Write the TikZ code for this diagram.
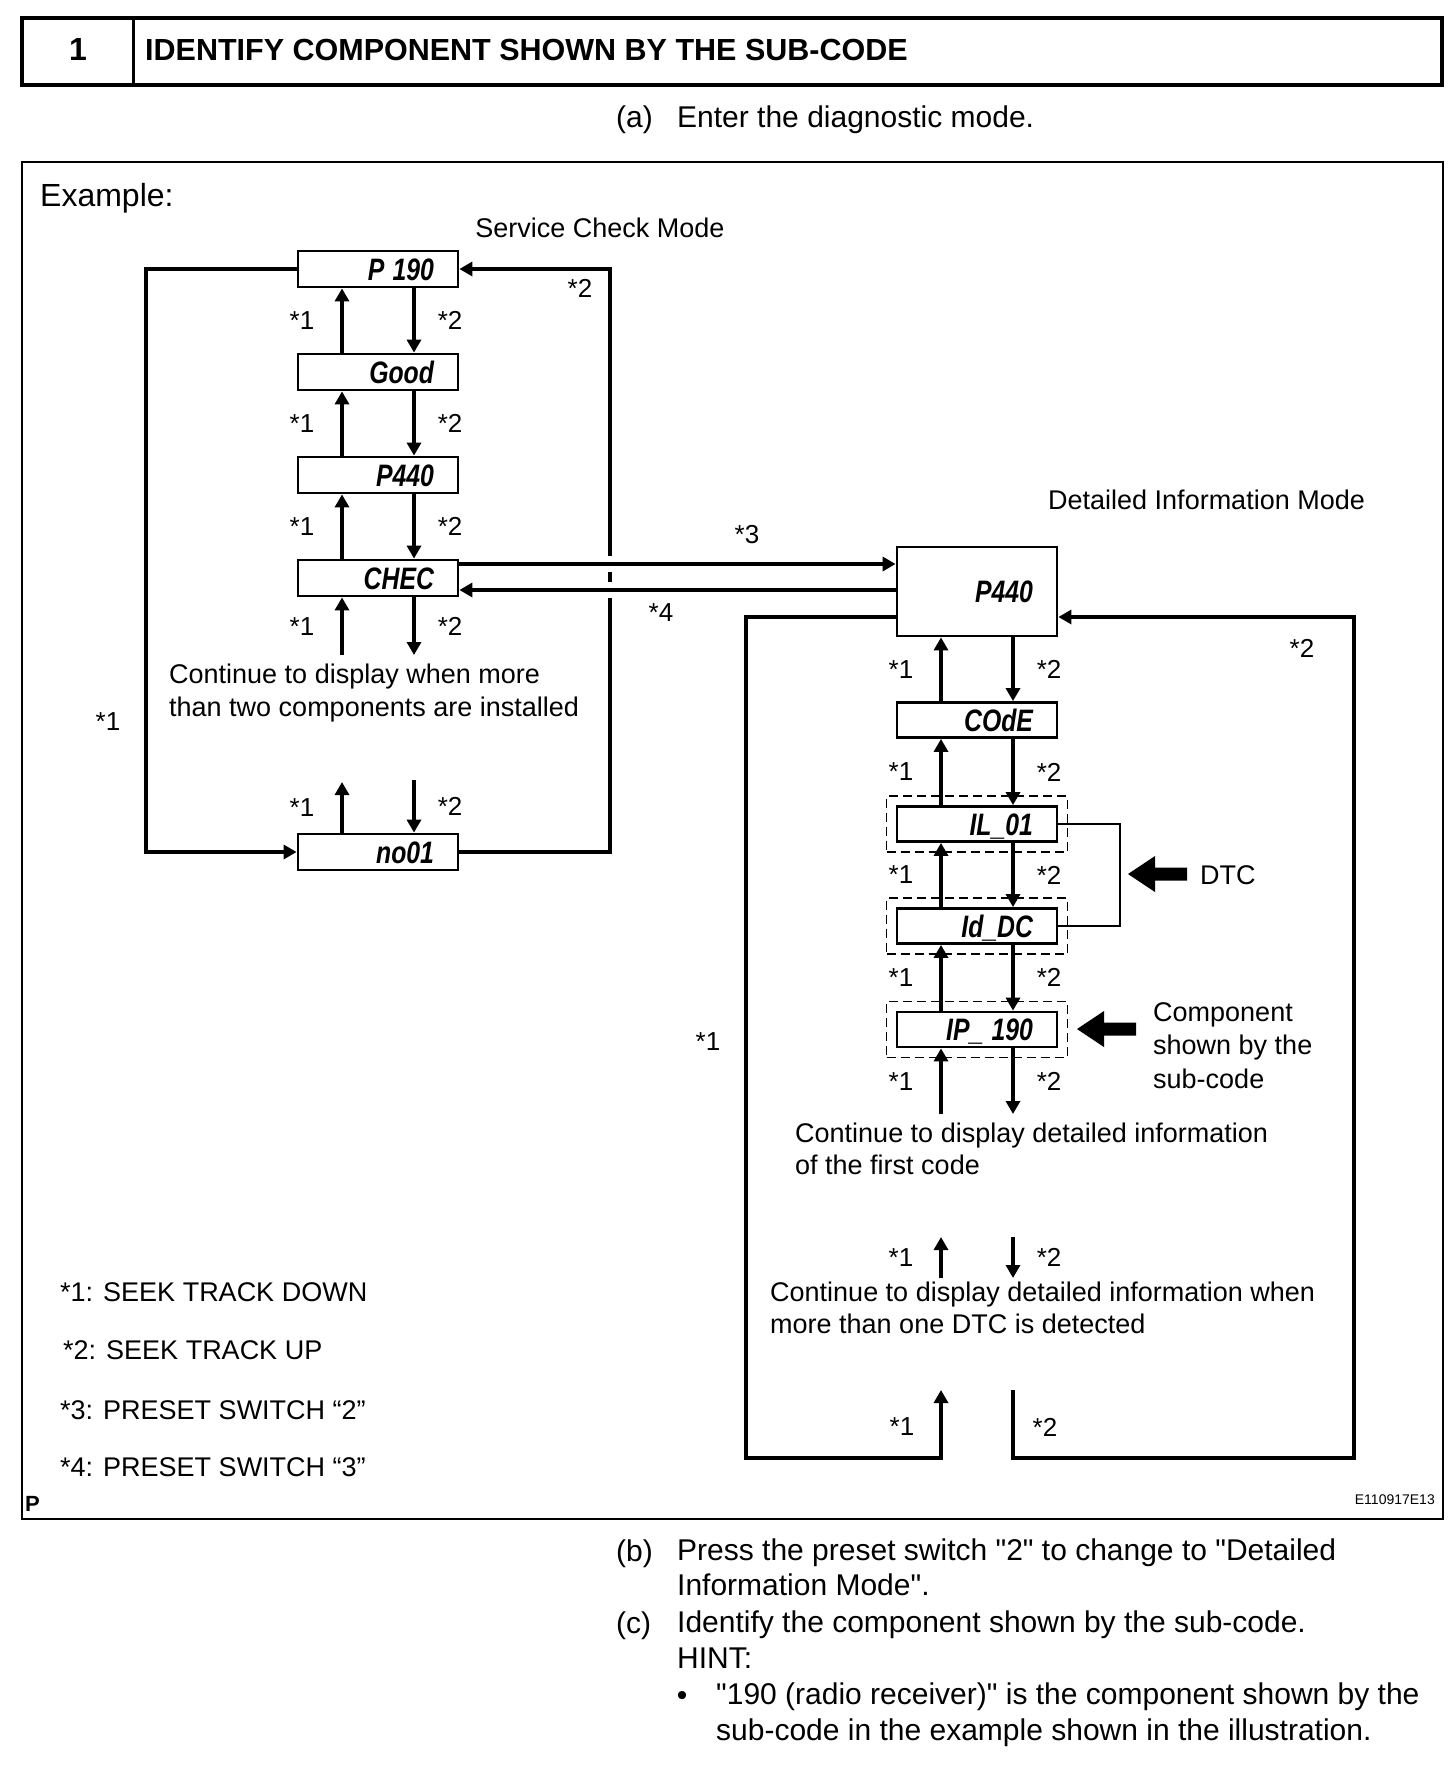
\documentclass[tikz,border=0pt]{standalone}
\usepackage{fontspec}
\newfontfamily\plainsans{Liberation Sans}
\usetikzlibrary{arrows.meta,fit}
\newcommand\lcdtxt[1]{\scalebox{0.8}[1]{#1}}
\tikzset{
  lcd/.style     = {draw, line width=2.8pt, minimum height=35pt, inner xsep=24pt,
                    inner ysep=0pt, text width=112pt, align=right,
                    text height=22pt, text depth=0pt,
                    font=\bfseries\itshape\fontsize{31}{31}\selectfont},
  endtip/.style  = {-{Triangle[width=14pt,length=13pt]}},
  arr/.style     = {line width=3.5pt, endtip},
  ring/.style    = {line width=4pt},
  lbl/.style     = {font=\fontsize{26}{26}\selectfont, inner sep=0pt},
  txt/.style     = {font=\fontsize{27}{33}\selectfont, inner sep=0pt, align=left},
  body/.style    = {font=\fontsize{30}{35}\selectfont, inner sep=0pt, align=left},
  dashbox/.style = {draw, line width=1.5pt, dash pattern=on 9pt off 5pt, inner sep=9pt},
  pics/fat/.style = {code={
    \fill (0,0) -- (27,18) -- (27,6.5) -- (59,6.5) -- (59,-6.5) -- (27,-6.5) -- (27,-18) -- cycle;}}
}
% *1 up / *2 down between two stacked displays
\newcommand\seekpair[2]{%
  \draw[arr] ([xshift=-36pt]#2.north) -- node[lbl,left=26pt] (#1-sd) {*1} ([xshift=-36pt]#1.south);
  \draw[arr] ([xshift=36pt]#1.south) -- node[lbl,right=22pt] (#1-su) {*2} ([xshift=36pt]#2.north);
}

\begin{document}
\plainsans
\begin{tikzpicture}[x=1pt,y=-1pt]
\useasboundingbox (0,0) rectangle (1456,1788);
\fill[white] (0,0) rectangle (1456,1788);

% header
\draw[line width=4pt] (22,18) rectangle (1442,85);
\draw[line width=3pt] (133,18) -- (133,85);
\node[font=\bfseries\fontsize{32}{32}\selectfont, anchor=base, inner sep=0pt] (num) at (78,60) {1};
\node[font=\bfseries\fontsize{30.5}{30.5}\selectfont, anchor=base west, inner sep=0pt] (title) at (145,60)
  {IDENTIFY COMPONENT SHOWN BY THE SUB-CODE};
\node[body, anchor=base west] (stepa) at (616,127) {(a)};
\node[body, anchor=base west] (enter) at (677,127) {Enter the diagnostic mode.};

% frame
\draw[line width=2.5pt] (22,162) rectangle (1443,1519);
\node[font=\fontsize{32}{32}\selectfont, anchor=base west, inner sep=0pt] (example) at (40,206.5) {Example:};
\node[txt, anchor=base] (scm) at (600,237) {Service Check Mode};
\node[txt, anchor=base west] (dim) at (1048,509) {Detailed Information Mode};

% service check displays
\node[lcd, minimum height=36pt] (p190) at (378,269) {\lcdtxt{P 190}};
\node[lcd, minimum height=36pt] (good) at (378,372) {\lcdtxt{Good}};
\node[lcd, minimum height=36pt] (p440) at (378,475) {\lcdtxt{P440}};
\node[lcd, minimum height=36pt] (chec) at (378,578) {\lcdtxt{CHEC}};
\node[lcd, minimum height=36pt] (no01) at (378,852) {\lcdtxt{no01}};
\seekpair{p190}{good}
\seekpair{good}{p440}
\seekpair{p440}{chec}

\coordinate (chec-u) at (342,655);
\coordinate (chec-d) at (414,655);
\draw[arr] (chec-u) -- node[lbl,left=26pt] (chec-sd) {*1} (chec-u |- chec.south);
\draw[arr] (chec-d |- chec.south) -- node[lbl,right=22pt] (chec-su) {*2} (chec-d);
\node[txt, anchor=north west] (more0) at (169,664) {Continue to display when more\\than two components are installed};
\coordinate (no-u) at (342,782);
\coordinate (no-d) at (414,780);
\draw[arr] (no-u |- no01.north) -- node[lbl,left=26pt] (no-sd) {*1} (no-u);
\draw[arr] (no-d) -- node[lbl,right=22pt] (no-su) {*2} (no-d |- no01.north);

% service loop, right side broken where *3/*4 cross
\coordinate (sl) at (146,852);
\coordinate (sr1) at (610,598);
\coordinate (sr2) at (610,582);
\coordinate (sr3) at (610,572);
\coordinate (sr4) at (610,556);
\draw[ring, endtip] (p190.west) -| (sl) -- (no01.west);
\draw[ring] (no01.east) -| (sr1);
\draw[ring] (sr2) -- (sr3);
\draw[ring, endtip] (sr4) |- (p190.east);
\node[lbl] (sl-lbl) at (108,722) {*1};
\node[lbl] (sr-lbl) at (580,288) {*2};

% detailed information displays
\node[lcd, minimum height=89pt] (p440d) at (977,591.5) {\lcdtxt{P440}};
\node[lcd] (code) at (977,720) {\lcdtxt{COdE}};
\node[lcd] (il01) at (977,824) {\lcdtxt{IL\_01}};
\node[lcd] (iddc) at (977,926) {\lcdtxt{Id\_DC}};
\node[lcd] (ip190) at (977,1029.5) {\lcdtxt{IP\_ 190}};
\node[dashbox, fit=(il01)] (il01f) {};
\node[dashbox, fit=(iddc)] (iddcf) {};
\node[dashbox, fit=(ip190)] (ip190f) {};
\seekpair{p440d}{code}
\seekpair{code}{il01}
\seekpair{il01}{iddc}
\seekpair{iddc}{ip190}

% mode change
\draw[arr] ([yshift=14pt]chec.east) -- ([yshift=14pt]chec.east -| p440d.west);
\draw[arr] ([yshift=-12pt]chec.east -| p440d.west) -- ([yshift=-12pt]chec.east);
\node[lbl] (sw3) at (747,535) {*3};
\node[lbl] (sw4) at (661,613) {*4};

% DTC bracket and pointers
\draw[line width=2pt] (il01.east) -- ++(62,0) |- (iddc.east);
\pic (dtcarrow) at (1128,874) {fat};
\node[txt, anchor=base west] (dtc) at (1200,884) {DTC};
\pic (comparrow) at (1077,1029) {fat};
\node[txt, anchor=north west, font=\fontsize{27}{33.5}\selectfont] (comp) at (1153,1002)
  {Component\\shown by the\\sub-code};

\coordinate (ip-u) at (941,1114);
\coordinate (ip-d) at (1013,1114);
\draw[arr] (ip-u) -- node[lbl,left=26pt] (ip-sd) {*1} (ip-u |- ip190.south);
\draw[arr] (ip-d |- ip190.south) -- node[lbl,right=22pt] (ip-su) {*2} (ip-d);
\node[txt, anchor=north west, font=\fontsize{27}{32}\selectfont] (more1) at (795,1123)
  {Continue to display detailed information\\of the first code};

\coordinate (mu1) at (941,1278);
\coordinate (mu2) at (941,1237);
\coordinate (md1) at (1013,1237);
\coordinate (md2) at (1013,1278);
\draw[arr] (mu1) -- node[lbl,left=26pt] (m-sd) {*1} (mu2);
\draw[arr] (md1) -- node[lbl,right=22pt] (m-su) {*2} (md2);
\node[txt, anchor=north west, font=\fontsize{27}{32}\selectfont] (more2) at (770,1282)
  {Continue to display detailed information when\\more than one DTC is detected};

% detailed information loop
\coordinate (dl) at (746,1458);
\coordinate (dlu) at (941,1390);
\coordinate (dru) at (1013,1390);
\coordinate (dr) at (1354,1458);
\draw[ring, endtip] ([yshift=-25.5pt]p440d.west) -| (dl) -| (dlu);
\draw[ring, endtip] (dru) |- (dr) |- ([yshift=-25.5pt]p440d.east);
\node[lbl] (dl-lbl) at (708,1042) {*1};
\node[lbl] (dr-lbl) at (1302,648) {*2};
\node[lbl] (dlu-lbl) at (902,1427) {*1};
\node[lbl] (dru-lbl) at (1045,1427) {*2};

% legend
\node[txt, anchor=base west] (leg1) at (60,1301) {*1: SEEK TRACK DOWN};
\node[txt, anchor=base west] (leg2) at (63,1359) {*2: SEEK TRACK UP};
\node[txt, anchor=base west] (leg3) at (60,1419) {*3: PRESET SWITCH “2”};
\node[txt, anchor=base west] (leg4) at (60,1476) {*4: PRESET SWITCH “3”};
\node[font=\bfseries\fontsize{22}{22}\selectfont, anchor=base west, inner sep=0pt] (pmark) at (25,1511) {P};
\node[font=\fontsize{14}{14}\selectfont, anchor=base east, inner sep=0pt] (figid) at (1435,1504) {E110917E13};

% steps below the frame
\node[body, anchor=base west] (stepb) at (616,1561) {(b)};
\node[body, anchor=north west] (press) at (677,1539)
  {Press the preset switch "2" to change to "Detailed\\Information Mode".};
\node[body, anchor=base west] (stepc) at (616,1633) {(c)};
\node[body, anchor=north west, font=\fontsize{30}{36}\selectfont] (ident) at (677,1611)
  {Identify the component shown by the sub-code.\\HINT:};
\node[body, anchor=base] (dot) at (682,1705) {•};
\node[body, anchor=north west, font=\fontsize{30}{36}\selectfont] (hint) at (716,1683)
  {"190 (radio receiver)" is the component shown by the\\sub-code in the example shown in the illustration.};
\end{tikzpicture}
\end{document}
